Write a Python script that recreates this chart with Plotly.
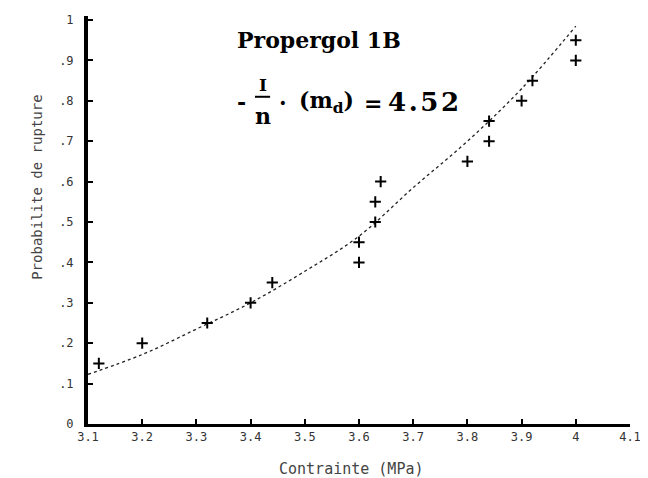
import plotly.graph_objects as go

# mesures (contrainte MPa, probabilite de rupture)
contrainte = [3.12, 3.20, 3.32, 3.40, 3.44, 3.60, 3.60, 3.63, 3.63, 3.64,
              3.80, 3.84, 3.84, 3.90, 3.92, 4.00, 4.00]
probabilite = [0.15, 0.20, 0.25, 0.30, 0.35, 0.40, 0.45, 0.50, 0.55, 0.60,
               0.65, 0.70, 0.75, 0.80, 0.85, 0.90, 0.95]

# courbe ajustee
courbe_x = [3.10, 3.20, 3.30, 3.40, 3.50, 3.60, 3.70, 3.80, 3.90, 4.00]
courbe_y = [0.123, 0.172, 0.235, 0.300, 0.378, 0.465, 0.585, 0.700, 0.830, 0.985]

x_ticks = [3.1, 3.2, 3.3, 3.4, 3.5, 3.6, 3.7, 3.8, 3.9, 4.0, 4.1]
x_labels = ["3.1", "3.2", "3.3", "3.4", "3.5", "3.6", "3.7", "3.8", "3.9", "4", "4.1"]
y_ticks = [0, 0.1, 0.2, 0.3, 0.4, 0.5, 0.6, 0.7, 0.8, 0.9, 1.0]
y_labels = ["0", ".1", ".2", ".3", ".4", ".5", ".6", ".7", ".8", ".9", "1"]

fig = go.Figure()
fig.add_trace(go.Scatter(x=courbe_x, y=courbe_y, mode="lines",
                         line=dict(color="#222", width=1.3, dash="dot", shape="spline"),
                         hoverinfo="skip"))
fig.add_trace(go.Scatter(x=contrainte, y=probabilite, mode="markers",
                         marker=dict(symbol="cross-thin", size=8,
                                     line=dict(color="black", width=2))))

tickfont = dict(family="DejaVu Sans Mono", size=12, color="#333")
fig.update_xaxes(range=[3.1, 4.1], tickvals=x_ticks, ticktext=x_labels,
                 showline=True, linewidth=3, linecolor="black",
                 ticks="inside", ticklen=5, tickwidth=1.5, tickcolor="black",
                 showgrid=False, zeroline=False, tickfont=tickfont,
                 ticklabelstandoff=0)
fig.update_yaxes(range=[0, 1.01], tickvals=y_ticks, ticktext=y_labels,
                 showline=True, linewidth=4, linecolor="black",
                 ticks="inside", ticklen=5, tickwidth=1.5, tickcolor="black",
                 showgrid=False, zeroline=False, tickfont=tickfont,
                 ticklabelstandoff=8)


def note(text, x, y, size, anchor="left", bold=True):
    fig.add_annotation(text=text, xref="paper", yref="paper", x=x, y=y,
                       xanchor=anchor, yanchor="middle", showarrow=False,
                       font=dict(family="DejaVu Serif", size=size, color="black",
                                 weight="bold" if bold else "normal"))


note("Propergol 1B", 0.271, 0.942, 22)
note("-", 0.271, 0.79, 22)
note("I", 0.322, 0.83, 17, anchor="center")
note("n", 0.323, 0.755, 22, anchor="center")
fig.add_shape(type="line", xref="paper", yref="paper",
              x0=0.308, x1=0.336, y0=0.802, y1=0.802,
              line=dict(color="black", width=2))
note("·", 0.359, 0.787, 22, anchor="center")
note("(m<sub>d</sub>)", 0.386, 0.79, 22)
note("=", 0.506, 0.787, 22)
note("4\u200a.\u200a5\u200a2", 0.55, 0.79, 26)

fig.add_annotation(text="Probabilite de rupture", xref="paper", yref="paper",
                   x=-0.094, y=0.579, textangle=-90, showarrow=False,
                   xanchor="center", yanchor="middle",
                   font=dict(family="DejaVu Sans Mono", size=14, color="#444"))
fig.add_annotation(text="Contrainte (MPa)", xref="paper", yref="paper",
                   x=0.487, y=-0.11, showarrow=False,
                   xanchor="center", yanchor="middle",
                   font=dict(family="DejaVu Sans Mono", size=15, color="#444"))

fig.update_layout(width=640, height=470, showlegend=False,
                  plot_bgcolor="white", paper_bgcolor="white",
                  margin=dict(l=80, r=18, t=5, b=54))

fig.write_html("out.html")
